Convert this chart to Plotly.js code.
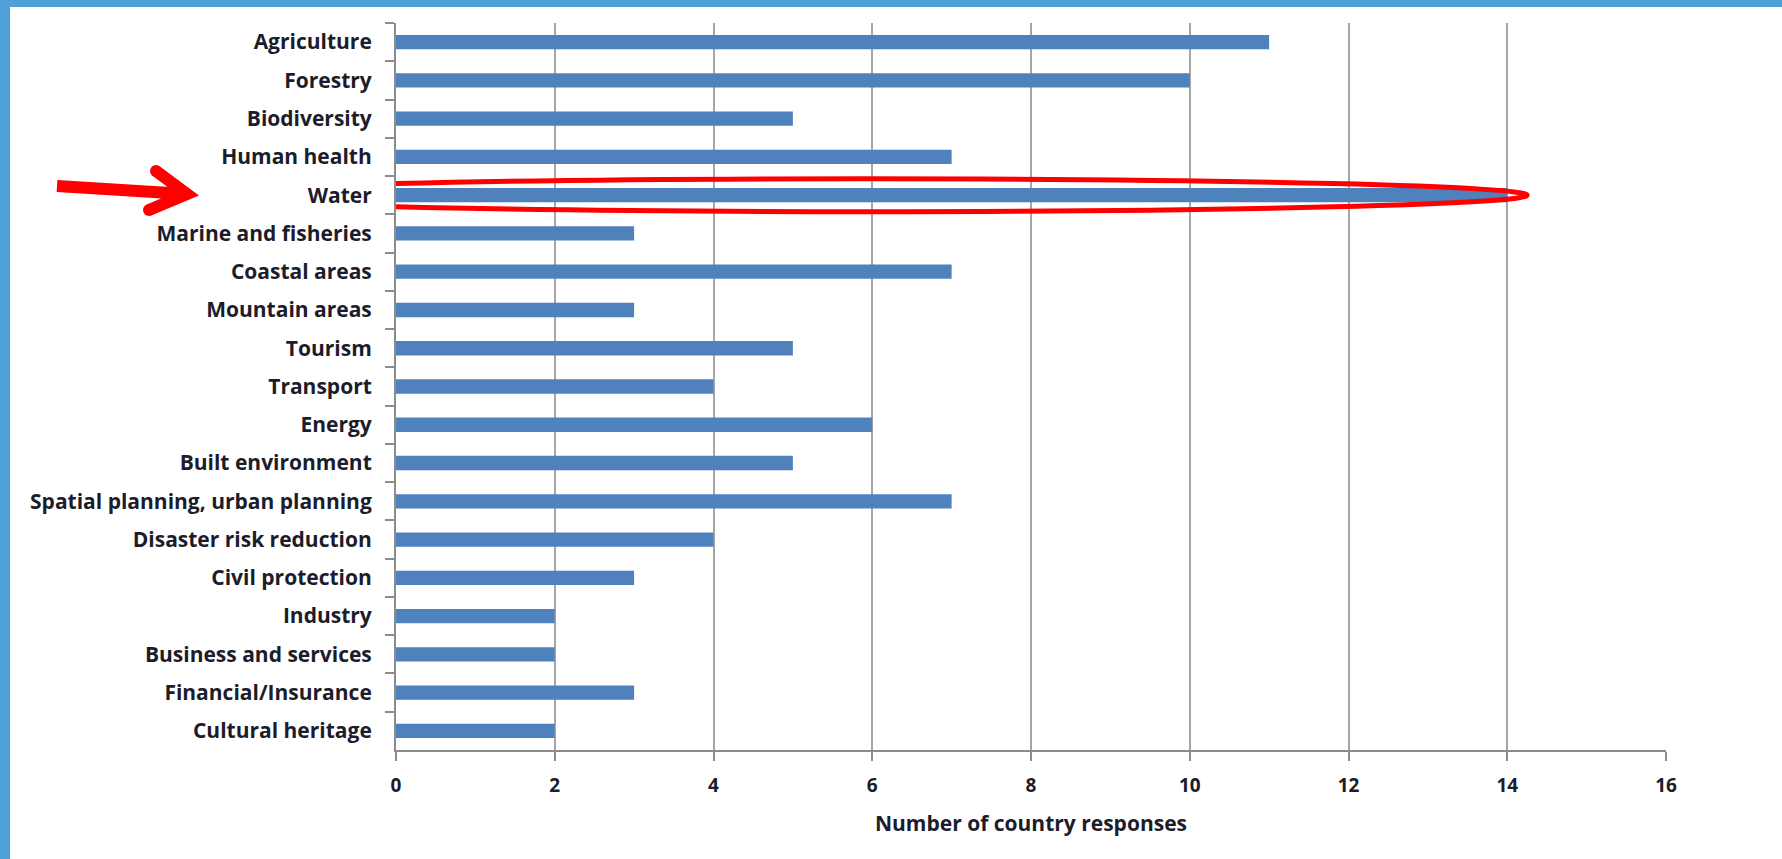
<!DOCTYPE html>
<html>
<head>
<meta charset="utf-8">
<script src="https://cdn.plot.ly/plotly-3.0.1.min.js"></script>
<style>
html,body{margin:0;padding:0;background:#fff;}
#wrap{width:1772px;height:852px;border-top:7px solid #4F9FD8;border-left:10px solid #4F9FD8;background:#fff;}
#chart{width:1772px;height:852px;}
</style>
</head>
<body>
<div id="wrap"><div id="chart"></div></div>
<script>
const categories = [
  "Agriculture","Forestry","Biodiversity","Human health","Water",
  "Marine and fisheries","Coastal areas","Mountain areas","Tourism","Transport",
  "Energy","Built environment","Spatial planning, urban planning","Disaster risk reduction",
  "Civil protection","Industry","Business and services","Financial/Insurance","Cultural heritage"
];
const responses = [11,10,5,7,14,3,7,3,5,4,6,5,7,4,3,2,2,3,2];
const xTickValues = [0,2,4,6,8,10,12,14,16];
const xTitle = "Number of country responses";
const highlighted = "Water";

// layout geometry (page pixels)
const W = 1772, H = 852, offX = 10, offY = 7;
const M = {l:386, r:116, t:16, b:109};
const plotL = offX + M.l, plotT = offY + M.t;
const plotW = W - M.l - M.r, plotH = H - M.t - M.b;
const px = x => (x - plotL) / plotW;
const py = y => 1 - (y - plotT) / plotH;

const hiIdx = categories.indexOf(highlighted);
const textColor = "#1c1c2a";
const fam = "Open Sans, sans-serif";

const trace = {
  type:"bar", orientation:"h",
  y: categories, x: responses,
  marker:{color:"#4F81BD", line:{width:0}},
  hoverinfo:"x+y"
};

const arrowPath = "M" + px(57) + "," + py(186) + " L" + px(186) + "," + py(194) +
                  " M" + px(156) + "," + py(171) + " L" + px(187) + "," + py(194) +
                  " L" + px(149) + "," + py(210);

function dot(cx, cy, r){
  return {type:"circle", xref:"paper", yref:"paper",
    x0:px(cx-r), x1:px(cx+r), y0:py(cy+r), y1:py(cy-r),
    fillcolor:"#FF0000", line:{width:0}, layer:"above"};
}

const layout = {
  width: W, height: H,
  margin: M,
  paper_bgcolor:"#fff", plot_bgcolor:"#fff",
  showlegend:false,
  bargap:0.626,
  xaxis:{
    range:[0,16], tickvals:xTickValues, ticktext:xTickValues.map(String),
    showgrid:true, gridcolor:"#A6A6A6", gridwidth:2,
    zeroline:false, showline:true, linecolor:"#8C8C8C", linewidth:2,
    ticks:"outside", ticklen:9, tickwidth:2, tickcolor:"#8C8C8C",
    ticklabelstandoff:8,
    tickfont:{family:fam, size:19, color:textColor, weight:"bold"},
    title:{text:xTitle, standoff:20, font:{family:fam, size:21, color:textColor, weight:"bold"}},
    fixedrange:true
  },
  yaxis:{
    type:"category", categoryorder:"array", categoryarray:categories,
    autorange:"reversed",
    showgrid:false, zeroline:false,
    showline:true, linecolor:"#8C8C8C", linewidth:2,
    ticks:"outside", tickson:"boundaries", ticklen:9, tickwidth:2, tickcolor:"#8C8C8C",
    ticklabelstandoff:18,
    tickfont:{family:fam, size:21, color:textColor, weight:"bold"},
    fixedrange:true
  },
  shapes:[
    {type:"circle", xref:"x", yref:"y", x0:-2.44, x1:14.25, y0:hiIdx-0.43, y1:hiIdx+0.43,
     line:{color:"#FF0000", width:5}, fillcolor:"rgba(0,0,0,0)", layer:"above"},
    {type:"path", xref:"paper", yref:"paper", path:arrowPath,
     line:{color:"#FF0000", width:12}, layer:"above"},
    dot(156,171,6), dot(149,210,6)
  ]
};

Plotly.newPlot("chart", [trace], layout, {displayModeBar:false, staticPlot:true});
</script>
</body>
</html>
